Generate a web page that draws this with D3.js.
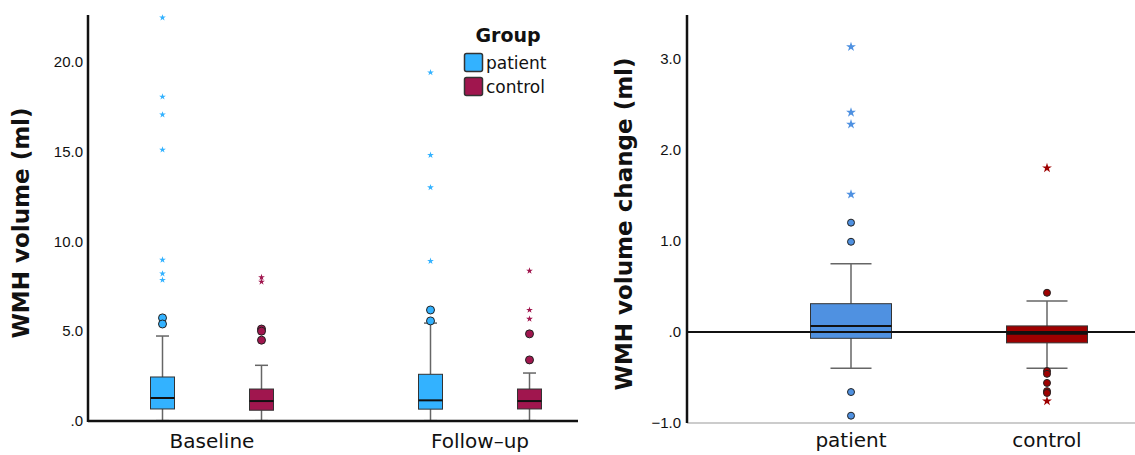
<!DOCTYPE html>
<html>
<head>
<meta charset="utf-8">
<script src="https://cdn.jsdelivr.net/npm/d3@7"></script>
<style>
  body { margin: 0; background: #fff; }
  svg { display: block; font-family: "DejaVu Sans", sans-serif; }
</style>
</head>
<body>
<div id="chart"></div>
<script>
// ---- data ----
var times = ["Baseline", "Follow-up"];
var groups = ["patient", "control"];

// box stats per time x group: [lowWhisker, q1, median, q3, highWhisker]
var volBaselinePatient = [0.02, 0.67, 1.28, 2.45, 4.73];
var volBaselineControl = [0.02, 0.60, 1.11, 1.78, 3.10];
var volFollowPatient = [0.02, 0.66, 1.15, 2.60, 5.45];
var volFollowControl = [0.02, 0.67, 1.11, 1.78, 2.67];

var outBaselinePatient = [5.74, 5.40];
var extBaselinePatient = [22.45, 18.05, 17.05, 15.1, 8.97, 8.2, 7.85];
var outBaselineControl = [5.12, 5.0, 4.5];
var extBaselineControl = [8.0, 7.75];
var outFollowPatient = [6.18, 5.57];
var extFollowPatient = [19.4, 14.8, 13.0, 8.9];
var outFollowControl = [4.85, 3.4];
var extFollowControl = [8.36, 6.18, 5.68];

var volTicks = [0, 5, 10, 15, 20];

// change panel
var chgPatient = [-0.40, -0.07, 0.066, 0.31, 0.75];
var chgControl = [-0.40, -0.12, -0.02, 0.066, 0.34];
var chgOutPatient = [1.2, 0.99, -0.66, -0.92];
var chgExtPatient = [3.13, 2.41, 2.28, 1.51];
var chgOutControl = [0.43, -0.43, -0.46, -0.56, -0.65, -0.67];
var chgExtControl = [1.80, -0.76];
var chgTicks = [-1, 0, 1, 2, 3];

var leftColors = { patient: "#33b2ff", control: "#a0164e" };
var rightColors = { patient: "#4f91e1", control: "#9e0000" };

// ---- setup ----
var W = 1135, H = 455;
var svg = d3.select("#chart").append("svg").attr("width", W).attr("height", H);

var fmt = function(d) { return d === 0 ? ".0" : d3.format(".1f")(d); };

function drawBox(g, cx, y, stats, boxW, capW, color) {
    var lw = stats[0], q1 = stats[1], med = stats[2], q3 = stats[3], hw = stats[4];
    var wcol = "#666";
    g.append("line").attr("x1", cx).attr("x2", cx).attr("y1", y(q3)).attr("y2", y(hw))
        .attr("stroke", wcol).attr("stroke-width", 1.5);
    g.append("line").attr("x1", cx).attr("x2", cx).attr("y1", y(q1)).attr("y2", y(lw))
        .attr("stroke", wcol).attr("stroke-width", 1.5);
    g.append("line").attr("x1", cx - capW / 2).attr("x2", cx + capW / 2).attr("y1", y(hw)).attr("y2", y(hw))
        .attr("stroke", wcol).attr("stroke-width", 1.5);
    g.append("line").attr("x1", cx - capW / 2).attr("x2", cx + capW / 2).attr("y1", y(lw)).attr("y2", y(lw))
        .attr("stroke", wcol).attr("stroke-width", 1.5);
    g.append("rect").attr("x", cx - boxW / 2).attr("y", y(q3))
        .attr("width", boxW).attr("height", y(q1) - y(q3))
        .attr("fill", color).attr("stroke", "#333").attr("stroke-width", 1);
    g.append("line").attr("x1", cx - boxW / 2).attr("x2", cx + boxW / 2).attr("y1", y(med)).attr("y2", y(med))
        .attr("stroke", "#111").attr("stroke-width", 2);
}

function drawOutliers(g, cx, y, outs, exts, color, r, starSize) {
    g.selectAll(null).data(outs).enter().append("circle")
        .attr("cx", cx).attr("cy", function(d) { return y(d); })
        .attr("r", r).attr("fill", color).attr("stroke", "#222").attr("stroke-width", 1);
    var star = d3.symbol().type(d3.symbolStar).size(starSize);
    g.selectAll(null).data(exts).enter().append("path")
        .attr("d", star)
        .attr("transform", function(d) { return "translate(" + cx + "," + y(d) + ")"; })
        .attr("fill", color);
}

// ---- left panel ----
var L = { x0: 88, x1: 578, top: 15, bottom: 421 };
var yL = d3.scaleLinear().domain([0, 22.6]).range([L.bottom, L.top]);
var xL = d3.scalePoint().domain(times).range([212, 480]);
var gOff = d3.scalePoint().domain(groups).range([-49.5, 49.5]);

var left = svg.append("g");

var boxesL = [
    { t: "Baseline", g: "patient", s: volBaselinePatient, o: outBaselinePatient, e: extBaselinePatient },
    { t: "Baseline", g: "control", s: volBaselineControl, o: outBaselineControl, e: extBaselineControl },
    { t: "Follow-up", g: "patient", s: volFollowPatient, o: outFollowPatient, e: extFollowPatient },
    { t: "Follow-up", g: "control", s: volFollowControl, o: outFollowControl, e: extFollowControl }
];
boxesL.forEach(function(b) {
    var cx = xL(b.t) + gOff(b.g);
    drawBox(left, cx, yL, b.s, 24, 13, leftColors[b.g]);
    drawOutliers(left, cx, yL, b.o, b.e, leftColors[b.g], 4, 14);
});

// axes
var yAxisL = d3.axisLeft(yL).tickValues(volTicks).tickFormat(fmt).tickSize(0).tickPadding(5);
left.append("g").attr("transform", "translate(" + L.x0 + ",0)").call(yAxisL)
    .call(function(g) {
        g.select(".domain").remove();
        g.selectAll("text").attr("font-size", 15).attr("fill", "#111");
    });
left.append("line").attr("x1", L.x0).attr("x2", L.x0).attr("y1", L.top).attr("y2", L.bottom + 1)
    .attr("stroke", "#111").attr("stroke-width", 2.5);
left.append("line").attr("x1", L.x0).attr("x2", L.x1).attr("y1", L.bottom).attr("y2", L.bottom)
    .attr("stroke", "#111").attr("stroke-width", 2.5);

left.selectAll(".xlab").data(times).enter().append("text")
    .attr("x", function(d) { return xL(d); }).attr("y", L.bottom + 27)
    .attr("text-anchor", "middle").attr("font-size", 20).attr("fill", "#111")
    .text(function(d) { return d.replace("-", "\u2013"); });

left.append("text")
    .attr("transform", "translate(29," + ((L.top + L.bottom) / 2 + 5) + ") rotate(-90)")
    .attr("text-anchor", "middle").attr("font-size", 23).attr("font-weight", "bold").attr("fill", "#111")
    .text("WMH volume (ml)");

// legend
var leg = left.append("g").attr("transform", "translate(464,0)");
leg.append("text").attr("x", 44).attr("y", 42).attr("text-anchor", "middle")
    .attr("font-size", 19).attr("font-weight", "bold").attr("fill", "#111").text("Group");
groups.forEach(function(gname, i) {
    leg.append("rect").attr("x", 0.5).attr("y", 53.5 + i * 24).attr("width", 18).attr("height", 18)
        .attr("rx", 2).attr("fill", leftColors[gname]).attr("stroke", "#333").attr("stroke-width", 1.5);
    leg.append("text").attr("x", 22).attr("y", 69 + i * 24).attr("font-size", 17).attr("fill", "#111").text(gname);
});

// ---- right panel ----
var R = { x0: 687, x1: 1135, top: 15, bottom: 423 };
var yR = d3.scaleLinear().domain([-1, 3.48]).range([R.bottom, R.top]);
var xR = d3.scalePoint().domain(groups).range([851, 1047]);

var right = svg.append("g");

var boxesR = [
    { g: "patient", s: chgPatient, o: chgOutPatient, e: chgExtPatient },
    { g: "control", s: chgControl, o: chgOutControl, e: chgExtControl }
];
boxesR.forEach(function(b) {
    var cx = xR(b.g);
    drawBox(right, cx, yR, b.s, 81, 41, rightColors[b.g]);
    drawOutliers(right, cx, yR, b.o, b.e, rightColors[b.g], 3.5, 30);
});

var yAxisR = d3.axisLeft(yR).tickValues(chgTicks).tickFormat(fmt).tickSize(0).tickPadding(6);
right.append("g").attr("transform", "translate(" + R.x0 + ",0)").call(yAxisR)
    .call(function(g) {
        g.select(".domain").remove();
        g.selectAll("text").attr("font-size", 15).attr("fill", "#111");
    });
right.append("line").attr("x1", R.x0).attr("x2", R.x1).attr("y1", R.bottom).attr("y2", R.bottom)
    .attr("stroke", "#999").attr("stroke-width", 1);
right.append("line").attr("x1", R.x0).attr("x2", R.x0).attr("y1", R.top).attr("y2", R.bottom)
    .attr("stroke", "#111").attr("stroke-width", 2.5);
// zero reference line on top of boxes
right.append("line").attr("x1", R.x0).attr("x2", R.x1).attr("y1", yR(0)).attr("y2", yR(0))
    .attr("stroke", "#111").attr("stroke-width", 2);

right.selectAll(".xlab").data(groups).enter().append("text")
    .attr("x", function(d) { return xR(d); }).attr("y", R.bottom + 24)
    .attr("text-anchor", "middle").attr("font-size", 20).attr("fill", "#111")
    .text(function(d) { return d; });

right.append("text")
    .attr("transform", "translate(632," + ((R.top + R.bottom) / 2 + 5) + ") rotate(-90)")
    .attr("text-anchor", "middle").attr("font-size", 23).attr("font-weight", "bold").attr("fill", "#111")
    .text("WMH volume change (ml)");
</script>
</body>
</html>
